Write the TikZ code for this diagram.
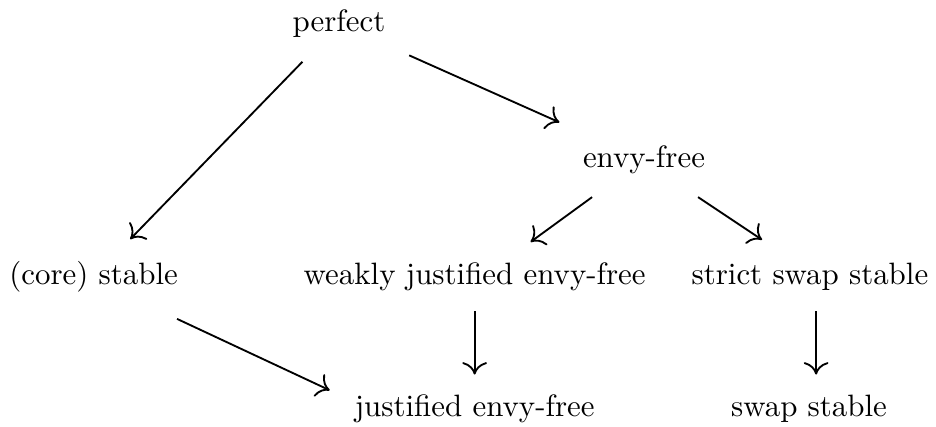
\documentclass[tikz,border=0pt]{standalone}
\usetikzlibrary{arrows.meta}
\begin{document}
\begin{tikzpicture}[x=1pt,y=1pt,
  lbl/.style={inner sep=7.5pt, text height=7pt, text depth=2pt},
  arr/.style={-{To[length=4pt,width=8pt]}, line width=0.6pt}]
\useasboundingbox (0,0) rectangle (302.9,-137.9);
\node[lbl] (perfect) at (109.7,-7.8) {perfect};
\node[lbl] (envy) at (208.4,-51.8) {envy-free};
\node[lbl] (core) at (30.3,-89.6) {(core) stable};
\node[lbl] (weak) at (153.6,-89.6) {weakly justified envy-free};
\node[lbl] (strict) at (262.1,-89.6) {strict swap stable};
\node[lbl] (just) at (153.6,-132.4) {justified envy-free};
\node[lbl] (swap) at (261.8,-132.4) {swap stable};
\draw[arr] (perfect) -- (core);
\draw[arr] (perfect) -- (envy);
\draw[arr] ([xshift=-16.8pt,yshift=-12pt]envy.center) -- ([xshift=18.1pt,yshift=11.3pt]weak.center);
\draw[arr] ([xshift=17.5pt,yshift=-12pt]envy.center) -- ([xshift=-15.5pt,yshift=12pt]strict.center);
\draw[arr] ([xshift=27pt,yshift=-13.6pt]core.center) -- ([xshift=-46.9pt,yshift=6.1pt]just.center);
\draw[arr] ([yshift=1pt]weak.south) -- ([yshift=-1pt]just.north);
\draw[arr] ([xshift=2pt,yshift=1pt]strict.south) -- ([xshift=2.3pt,yshift=-1pt]swap.north);
\end{tikzpicture}
\end{document}
